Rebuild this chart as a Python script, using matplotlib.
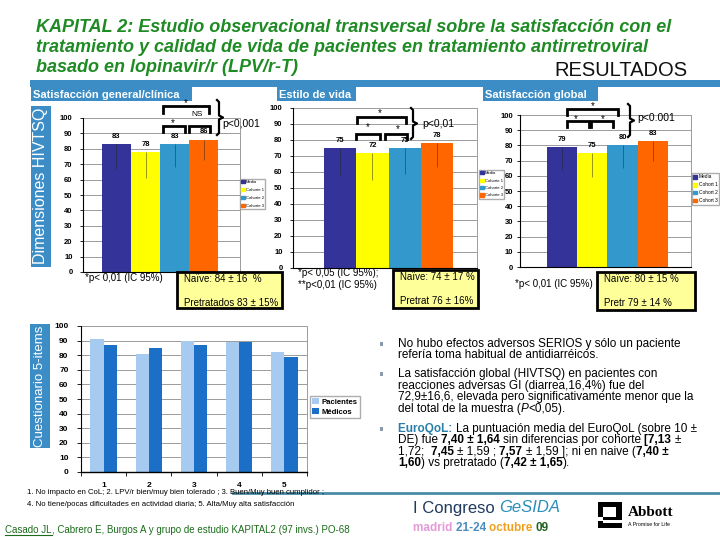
import matplotlib
matplotlib.use("Agg")
import matplotlib.pyplot as plt
from matplotlib import font_manager
from matplotlib.patches import Rectangle, Patch
import numpy as np

plt.rcParams["font.family"] = ["Liberation Sans", "DejaVu Sans"]

W, H = 720, 540

# ---- data ----
cohorts = ["Media", "Cohorte 1", "Cohorte 2", "Cohorte 3"]
cohorts_en = ["Media", "Cohort 1", "Cohort 2", "Cohort 3"]
cohort_colors = ["#333399", "#FFFF00", "#3399CC", "#FF6600"]

general = [83, 78, 83, 86]
general_sd = [16, 17, 15, 13]
estilo = [75, 72, 75, 78]
estilo_sd = [17, 17, 16, 15]
global_sat = [79, 75, 80, 83]
global_sd = [15, 16, 15, 13]

items = ["1", "2", "3", "4", "5"]
pacientes = [91, 81, 90, 89, 82]
medicos = [87, 85, 87, 89, 79]

BLUE = "#3C8DC5"
GREEN = "#1F8B24"

names = {f.name for f in font_manager.fontManager.ttflist}
title_family = "Liberation Sans Narrow" if "Liberation Sans Narrow" in names else "Liberation Sans"
title_size = 15.7 if title_family == "Liberation Sans Narrow" else 13

fig = plt.figure(figsize=(7.2, 5.4), dpi=100)
fig.patch.set_facecolor("white")


def px_axes(left, top, right, bottom):
    return fig.add_axes([left / W, 1 - bottom / H, (right - left) / W, (bottom - top) / H])


def cohort_chart(box, xlim, values, sd, legend_labels=None, legend_box=None,
                 legend_size=4.5, spacing=0.6, pad=5):
    ax = px_axes(*box)
    x = np.arange(len(values))
    ax.bar(x, values, width=1.0, color=cohort_colors, zorder=2)
    ax.errorbar(x, values, yerr=[sd, [0] * len(sd)], fmt="none", ecolor="#222222",
                elinewidth=0.6, alpha=0.55, zorder=3)
    for xi, v in zip(x, values):
        ax.annotate(str(v), (xi, v), xytext=(0, 3), textcoords="offset points",
                    ha="center", va="bottom", fontsize=5.5, fontweight="bold")
    ax.set_xlim(*xlim)
    ax.set_ylim(0, 100)
    ax.set_yticks(range(0, 101, 10))
    ax.set_xticks([])
    ax.yaxis.grid(True, color="#8c8c8c", lw=0.6)
    ax.set_axisbelow(True)
    ax.tick_params(axis="y", labelsize=5.5, length=2.5, width=0.6, pad=pad)
    for lab in ax.get_yticklabels():
        lab.set_fontweight("bold")
    ax.spines["top"].set_visible(False)
    ax.spines["right"].set_color("#8c8c8c")
    ax.spines["right"].set_linewidth(0.6)
    ax.spines["left"].set_linewidth(0.8)
    ax.spines["bottom"].set_linewidth(0.8)
    if legend_labels is not None:
        handles = [Patch(color=c) for c in cohort_colors]
        ax.legend(handles, legend_labels, loc="upper left",
                  bbox_to_anchor=(legend_box[0] / W, 1 - legend_box[1] / H),
                  bbox_transform=fig.transFigure, fontsize=legend_size,
                  handlelength=0.8, handleheight=0.8, handletextpad=0.3,
                  labelspacing=spacing, borderpad=0.3, borderaxespad=0,
                  frameon=True, fancybox=False, edgecolor="#999999")
    return ax


ax1 = cohort_chart((83, 118, 240, 272), (-1.15, 4.25), general, general_sd,
                   cohorts, (240, 179), 3.0, spacing=0.9)
ax2 = cohort_chart((293, 108, 477, 268), (-1.46, 4.24), estilo, estilo_sd,
                   cohorts, (479, 170), 3.0, spacing=0.8)
ax3 = cohort_chart((520, 115, 691, 267), (-1.39, 4.26), global_sat, global_sd,
                   cohorts_en, (692, 173), 3.5, pad=2.5)

# questionnaire chart
ax4 = px_axes(81, 326, 307, 472)
xi = np.arange(len(items))
bw = 0.29
ax4.bar(xi - bw / 2, pacientes, bw, color="#A6CAF0", label="Pacientes", zorder=2)
ax4.bar(xi + bw / 2, medicos, bw, color="#1C6FC6", label="Médicos", zorder=2)
ax4.set_xlim(-0.5, len(items) - 0.5)
ax4.set_ylim(0, 100)
ax4.set_yticks(range(0, 101, 10))
ax4.set_xticks(xi)
ax4.set_xticklabels(items)
ax4.set_xticks(np.arange(len(items) + 1) - 0.5, minor=True)
ax4.tick_params(axis="x", which="major", length=0, pad=7, labelsize=6)
ax4.tick_params(axis="x", which="minor", length=3, width=0.6)
ax4.tick_params(axis="y", labelsize=6, length=3, width=0.6, pad=6)
for lab in ax4.get_yticklabels() + ax4.get_xticklabels():
    lab.set_fontweight("bold")
ax4.yaxis.grid(True, color="#8c8c8c", lw=0.6)
ax4.set_axisbelow(True)
ax4.spines["top"].set_visible(False)
ax4.spines["right"].set_color("#8c8c8c")
ax4.spines["right"].set_linewidth(0.6)
ax4.spines["bottom"].set_linewidth(1.0)
ax4.legend(loc="upper left", bbox_to_anchor=(310 / W, 1 - 396 / H),
           bbox_transform=fig.transFigure, prop={"size": 5.6, "weight": "bold"},
           handlelength=0.8, handleheight=0.8, handletextpad=0.4,
           labelspacing=0.3, borderpad=0.3, borderaxespad=0,
           frameon=True, fancybox=False, edgecolor="#999999")

# ---- overlay in pixel coordinates for the slide decorations ----
ov = fig.add_axes([0, 0, 1, 1], zorder=10)
ov.set_xlim(0, W)
ov.set_ylim(H, 0)
ov.axis("off")
ov.patch.set_alpha(0)
renderer = fig.canvas.get_renderer()

# title
title_lines = [
    "KAPITAL 2: Estudio observacional transversal sobre la satisfacción con el",
    "tratamiento y calidad de vida de pacientes en tratamiento antirretroviral",
    "basado en lopinavir/r (LPV/r-T)",
]
for line, y in zip(title_lines, [27, 48, 68]):
    ov.text(36, y, line, color=GREEN, fontsize=title_size, fontweight="bold",
            fontstyle="italic", family=[title_family, "Liberation Sans"], va="center")
ov.text(688, 71, "RESULTADOS", fontsize=14.5, ha="right", va="center", color="#111111",
        family=[title_family, "Liberation Sans"])

# blue band and headers
ov.add_patch(Rectangle((30, 80), W - 30, 7, color=BLUE, lw=0))
for (x0, x1), txt in zip([(31, 192), (277, 356), (483, 598)],
                         ["Satisfacción general/clínica", "Estilo de vida", "Satisfacción global"]):
    ov.add_patch(Rectangle((x0, 87), x1 - x0, 14, color=BLUE, lw=0))
    ov.text(x0 + 2, 94.5, txt, color="white", fontsize=8, fontweight="bold", va="center")

ov.add_patch(Rectangle((31, 106), 20, 161, color=BLUE, lw=0))
ov.text(41, 186, "Dimensiones HIVTSQ", color="white", fontsize=11.5, rotation=90,
        ha="center", va="center")
ov.add_patch(Rectangle((30, 324), 20, 124, color=BLUE, lw=0))
ov.text(40, 386, "Cuestionario 5-items", color="white", fontsize=9.5, rotation=90,
        ha="center", va="center")


def bracket(x1, x2, y, drop):
    ov.plot([x1, x1, x2, x2], [y + drop, y, y, y + drop], color="k", lw=2,
            solid_joinstyle="miter")


def brace(x, y1, y2, w=4):
    ym = (y1 + y2) / 2
    ov.plot([x - 2, x, x, x + w, x, x, x - 2],
            [y1, y1 + 2, ym - 2, ym, ym + 2, y2 - 2, y2], color="k", lw=1.6)


def star(x, y, s="*", size=7):
    ov.text(x, y, s, ha="center", va="center", fontsize=size)


# chart 1 annotations
bracket(163, 209, 106, 7)
star(186, 103)
ov.text(197, 114, "NS", fontsize=6, ha="center", va="center")
bracket(163, 185, 126, 6)
star(173, 123)
bracket(189, 210, 126, 6)
brace(219, 100, 135)
ov.text(222, 124, "p<0,001", fontsize=7.5, va="center")

# chart 2 annotations
bracket(357, 406, 117, 6)
star(380, 113)
bracket(356, 380, 134, 5)
star(368, 127)
bracket(385, 407, 134, 5)
star(398, 129)
brace(413, 108, 139)
ov.text(422, 124, "p<0,01", fontsize=7.5, va="center")

# chart 3 annotations
bracket(567, 618, 109, 6)
star(593, 106)
bracket(567, 589, 121, 6)
star(576, 119)
bracket(591, 613, 121, 6)
star(603, 119)
brace(630, 104, 137)
ov.text(637, 118, "p<0.001", fontsize=7.5, va="center")

# significance notes
ov.text(85, 278, "*p< 0,01 (IC 95%)", fontsize=7, va="center")
ov.text(298, 273, "*p< 0,05 (IC 95%);", fontsize=7, va="center")
ov.text(298, 285, "**p<0,01 (IC 95%)", fontsize=7, va="center")
ov.text(515, 284, "*p< 0,01 (IC 95%)", fontsize=7, va="center")

# yellow boxes
boxes = [
    ((177, 272, 282, 308), "Naïve: 84 ± 16  %", "Pretratados 83 ± 15%"),
    ((393, 270, 478, 308), "Naïve: 74 ± 17 %", "Pretrat 76 ± 16%"),
    ((597, 272, 695, 310), "Naïve: 80 ± 15 %", "Pretr 79 ± 14 %"),
]
for (x0, y0, x1, y1), t1, t2 in boxes:
    r = Rectangle((x0, y0), x1 - x0, y1 - y0, facecolor="#FFFF99", edgecolor="k", lw=2)
    ov.add_patch(r)
    ov.text(x0 + 7, y0 + 7, t1, fontsize=7, va="center")
    t = ov.text(x0 + 7, y0 + 31, t2, fontsize=7, va="center")
    t.set_clip_path(r)

# footnote of questionnaire
ov.plot([233, W], [493, 493], color="#4A8CA8", lw=2)
ov.text(27, 493, "1. No impacto en CoL; 2. LPV/r bien/muy bien tolerado ; 3. Buen/Muy buen cumplidor ;",
        fontsize=5.6, va="center")
ov.text(27, 504, "4. No tiene/pocas dificultades en actividad diaria; 5. Alta/Muy alta satisfacción",
        fontsize=5.6, va="center")


def advance(s, size, **kw):
    a = ov.text(0, 0, s + "|", fontsize=size, **kw)
    b = ov.text(0, 0, "|", fontsize=size, **kw)
    w = a.get_window_extent(renderer).width - b.get_window_extent(renderer).width
    a.remove()
    b.remove()
    return w


def rich(x, y, parts, size=8.5):
    for s, kw in parts:
        ov.text(x, y, s, fontsize=size, va="center", ha="left", **kw)
        x += advance(s, size, **kw)
    return x


B = {"fontweight": "bold"}
bullet_lines = [
    (344, True, [("No hubo efectos adversos SERIOS y sólo un paciente", {})]),
    (355, False, [("refería toma habitual de antidiarréicos.", {})]),
    (374, True, [("La satisfacción global (HIVTSQ) en pacientes con", {})]),
    (386, False, [("reacciones adversas GI (diarrea,16,4%) fue del", {})]),
    (397, False, [("72,9±16,6, elevada pero significativamente menor que la", {})]),
    (409, False, [("del total de la muestra (", {}), ("P", {"fontstyle": "italic"}), ("<0,05).", {})]),
    (429, True, [("EuroQoL: ", {"fontweight": "bold", "color": "#2A7FA8"}),
                 ("La puntuación media del EuroQoL (sobre 10 ±", {})]),
    (440, False, [("DE) fue ", {}), ("7,40 ± 1,64 ", B), ("sin diferencias por cohorte ", {}),
                  ("[7,13 ", B), ("±", {})]),
    (452, False, [("1,72;  ", {}), ("7,45 ", B), ("± 1,59 ; ", {}), ("7,57 ", B),
                  ("± 1,59 ]; ni en naive (", {}), ("7,40 ±", B)]),
    (463, False, [("1,60", B), (") vs pretratado (", {}), ("7,42 ± 1,65", B), (").", {})]),
]
for y, has_bullet, parts in bullet_lines:
    if has_bullet:
        ov.add_patch(Rectangle((379.5, y - 2), 3.5, 3.5, color="#8A9AAA", lw=0))
    rich(398, y, parts)

# authors
rich(5, 530, [("Casado JL", {"color": "#1A6B1A"}),
              (", Cabrero E, Burgos A y grupo de estudio KAPITAL2 (97 invs.) PO-68",
               {"color": "#1A6B1A"})], size=7)
ov.plot([5, 5 + advance("Casado JL", 7)], [535, 535], color="#1A6B1A", lw=0.8)

# congress
rich(413, 508, [("I Congreso ", {"color": "#1F3A5F"}),
                ("GeSIDA", {"color": "#2A8FB8", "fontstyle": "italic"})], size=12)
rich(413, 528, [("madrid ", {"color": "#E39AD8", "fontweight": "bold"}),
                ("21-24 ", {"color": "#4A8CC0", "fontweight": "bold"}),
                ("octubre ", {"color": "#F0A020", "fontweight": "bold"}),
                ("09", {"color": "#206020", "fontweight": "bold"})], size=8.5)

# Abbott logo
ov.add_patch(Rectangle((598, 502), 24, 26, color="k", lw=0))
ov.add_patch(Rectangle((603, 507), 13, 10, color="white", lw=0))
ov.add_patch(Rectangle((598, 517), 5, 4, color="white", lw=0))
ov.add_patch(Rectangle((603, 520), 19, 2.5, color="white", lw=0))
ov.text(628, 512, "Abbott", fontsize=11, fontweight="bold", family="Liberation Serif", va="center")
ov.text(628, 525, "A Promise for Life", fontsize=3.8, va="center")

fig.savefig("out.png", dpi=100)
